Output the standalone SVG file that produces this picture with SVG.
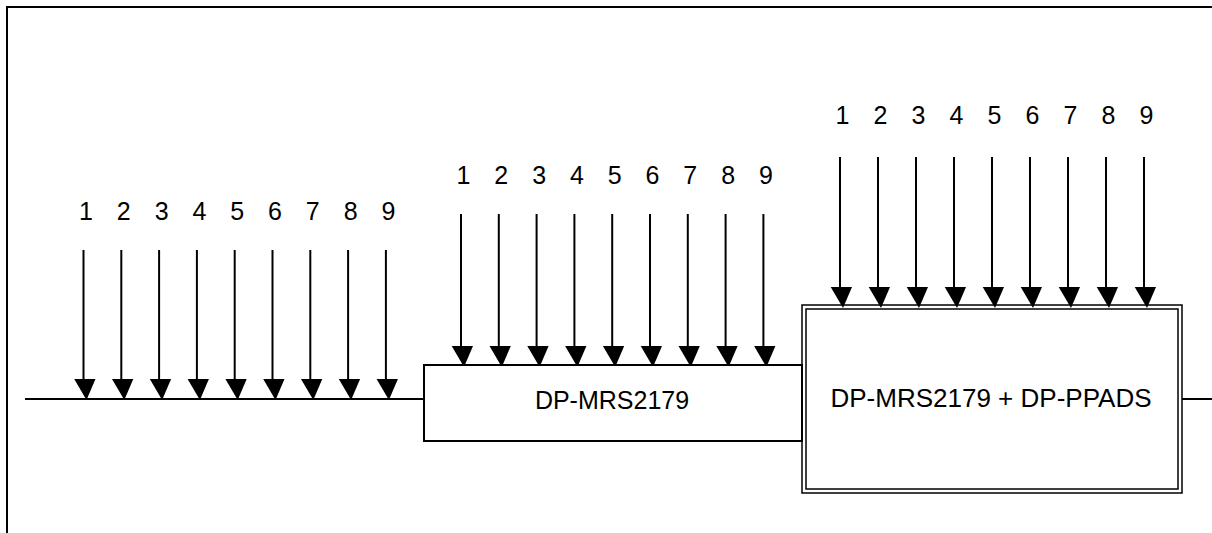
<svg xmlns="http://www.w3.org/2000/svg" width="1212" height="533" viewBox="0 0 1212 533">
<style>
.ln{stroke:#000;stroke-width:2;fill:none}
.bx{stroke:#000;stroke-width:2;fill:#fff}
.db{stroke:#000;stroke-width:1.5;fill:none}
.hd{fill:#000;stroke:none}
.t{font-family:"Liberation Sans",Arial,sans-serif;font-size:25px;fill:#000;text-anchor:middle}
</style>
<defs>
<g id="arr"><path class="hd" d="M-9.3,0 L12,0 L3,21 Z"/></g>
</defs>
<g id="frame">
<line class="ln" x1="7" y1="7" x2="1212" y2="7"/>
<line class="ln" x1="7" y1="6" x2="7" y2="533"/>
</g>
<g id="connectors">
<line class="ln" x1="25" y1="399" x2="424" y2="399"/>
<line class="ln" x1="1182" y1="399" x2="1212" y2="399"/>
<g id="arrows-left">
<line class="ln" x1="83.5" y1="250" x2="83.5" y2="380"/><use href="#arr" x="83.5" y="379"/>
<line class="ln" x1="121.3" y1="250" x2="121.3" y2="380"/><use href="#arr" x="121.3" y="379"/>
<line class="ln" x1="159.1" y1="250" x2="159.1" y2="380"/><use href="#arr" x="159.1" y="379"/>
<line class="ln" x1="196.9" y1="250" x2="196.9" y2="380"/><use href="#arr" x="196.9" y="379"/>
<line class="ln" x1="234.7" y1="250" x2="234.7" y2="380"/><use href="#arr" x="234.7" y="379"/>
<line class="ln" x1="272.5" y1="250" x2="272.5" y2="380"/><use href="#arr" x="272.5" y="379"/>
<line class="ln" x1="310.3" y1="250" x2="310.3" y2="380"/><use href="#arr" x="310.3" y="379"/>
<line class="ln" x1="348.1" y1="250" x2="348.1" y2="380"/><use href="#arr" x="348.1" y="379"/>
<line class="ln" x1="385.9" y1="250" x2="385.9" y2="380"/><use href="#arr" x="385.9" y="379"/>
</g>
<g id="arrows-mid">
<line class="ln" x1="461" y1="214" x2="461" y2="347"/><use href="#arr" x="461" y="346"/>
<line class="ln" x1="498.8" y1="214" x2="498.8" y2="347"/><use href="#arr" x="498.8" y="346"/>
<line class="ln" x1="536.6" y1="214" x2="536.6" y2="347"/><use href="#arr" x="536.6" y="346"/>
<line class="ln" x1="574.4" y1="214" x2="574.4" y2="347"/><use href="#arr" x="574.4" y="346"/>
<line class="ln" x1="612.2" y1="214" x2="612.2" y2="347"/><use href="#arr" x="612.2" y="346"/>
<line class="ln" x1="650" y1="214" x2="650" y2="347"/><use href="#arr" x="650" y="346"/>
<line class="ln" x1="687.8" y1="214" x2="687.8" y2="347"/><use href="#arr" x="687.8" y="346"/>
<line class="ln" x1="725.6" y1="214" x2="725.6" y2="347"/><use href="#arr" x="725.6" y="346"/>
<line class="ln" x1="763.4" y1="214" x2="763.4" y2="347"/><use href="#arr" x="763.4" y="346"/>
</g>
<g id="arrows-right">
<line class="ln" x1="840" y1="157" x2="840" y2="288"/><use href="#arr" x="840" y="287"/>
<line class="ln" x1="878" y1="157" x2="878" y2="288"/><use href="#arr" x="878" y="287"/>
<line class="ln" x1="916" y1="157" x2="916" y2="288"/><use href="#arr" x="916" y="287"/>
<line class="ln" x1="954" y1="157" x2="954" y2="288"/><use href="#arr" x="954" y="287"/>
<line class="ln" x1="992" y1="157" x2="992" y2="288"/><use href="#arr" x="992" y="287"/>
<line class="ln" x1="1030" y1="157" x2="1030" y2="288"/><use href="#arr" x="1030" y="287"/>
<line class="ln" x1="1068" y1="157" x2="1068" y2="288"/><use href="#arr" x="1068" y="287"/>
<line class="ln" x1="1106" y1="157" x2="1106" y2="288"/><use href="#arr" x="1106" y="287"/>
<line class="ln" x1="1144" y1="157" x2="1144" y2="288"/><use href="#arr" x="1144" y="287"/>
</g>
</g>
<g id="labels-left" class="t">
<text x="86" y="220">1</text><text x="123.8" y="220">2</text><text x="161.6" y="220">3</text><text x="199.4" y="220">4</text><text x="237.2" y="220">5</text><text x="275" y="220">6</text><text x="312.8" y="220">7</text><text x="350.6" y="220">8</text><text x="388.4" y="220">9</text>
</g>
<g id="labels-mid" class="t">
<text x="463.5" y="184">1</text><text x="501.3" y="184">2</text><text x="539.1" y="184">3</text><text x="576.9" y="184">4</text><text x="614.7" y="184">5</text><text x="652.5" y="184">6</text><text x="690.3" y="184">7</text><text x="728.1" y="184">8</text><text x="765.9" y="184">9</text>
</g>
<g id="labels-right" class="t">
<text x="842.5" y="124">1</text><text x="880.5" y="124">2</text><text x="918.5" y="124">3</text><text x="956.5" y="124">4</text><text x="994.5" y="124">5</text><text x="1032.5" y="124">6</text><text x="1070.5" y="124">7</text><text x="1108.5" y="124">8</text><text x="1146.5" y="124">9</text>
</g>
<g id="node-mrs">
<rect class="bx" x="424" y="365" width="378" height="76"/>
<text class="t" x="612" y="409">DP-MRS2179</text>
</g>
<g id="node-mrs-ppads">
<rect x="802" y="305" width="380" height="188" fill="#fff" class="db"/>
<rect x="806" y="309" width="372" height="180" class="db"/>
<text class="t" x="991" y="407" style="font-size:26px">DP-MRS2179 + DP-PPADS</text>
</g>
</svg>
